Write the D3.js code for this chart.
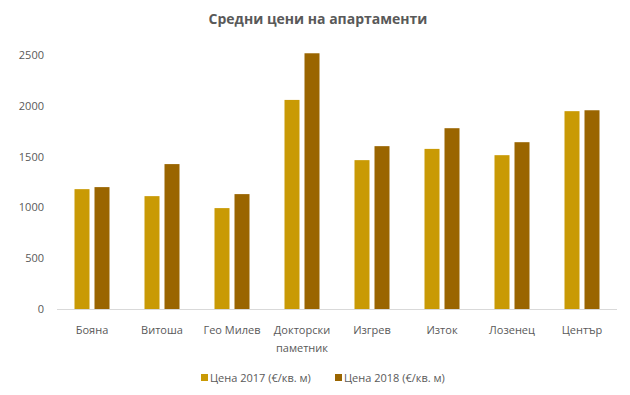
<!DOCTYPE html>
<html>
<head>
<meta charset="utf-8">
<script src="https://cdn.jsdelivr.net/npm/d3@7"></script>
<style>
  body { margin: 0; background: #fff; }
  text { font-family: "Open Sans", "Noto Sans", sans-serif; fill: #595959; }
</style>
</head>
<body>
<div id="chart"></div>
<script>
var categories = ["Бояна", "Витоша", "Гео Милев", "Докторски паметник", "Изгрев", "Изток", "Лозенец", "Център"];
var prices2017 = [1182, 1113, 995, 2062, 1468, 1579, 1517, 1951];
var prices2018 = [1202, 1429, 1133, 2522, 1606, 1783, 1645, 1960];
var seriesNames = ["Цена 2017 (€/кв. м)", "Цена 2018 (€/кв. м)"];
var yTicks = [0, 500, 1000, 1500, 2000, 2500];

var colors = ["#C99A05", "#9A6500"];

var width = 630;
var height = 395;
var margin = { top: 55, right: 13, bottom: 86, left: 57 };

var svg = d3
  .select("#chart")
  .append("svg")
  .attr("width", width)
  .attr("height", height);

var x = d3
  .scaleBand()
  .domain(categories)
  .range([margin.left, width - margin.right]);

var y = d3
  .scaleLinear()
  .domain([0, 2500])
  .range([height - margin.bottom, 55.5]);

// title
svg
  .append("text")
  .attr("x", 318)
  .attr("y", 24)
  .attr("text-anchor", "middle")
  .style("font-size", "14px")
  .style("font-weight", "bold")
  .text("Средни цени на апартаменти");

// y labels, no axis line
svg
  .selectAll(".ytick")
  .data(yTicks)
  .enter()
  .append("text")
  .attr("class", "ytick")
  .attr("x", 44)
  .attr("y", d => y(d))
  .attr("dy", "0.35em")
  .attr("text-anchor", "end")
  .style("font-size", "11px")
  .text(d => d);

// bars
var series = [prices2017, prices2018];
var barW = 15;
var gap = 5;

series.forEach(function(vals, s) {
  svg
    .selectAll(".bar" + s)
    .data(vals)
    .enter()
    .append("rect")
    .attr("class", "bar" + s)
    .attr("x", (d, i) => x(categories[i]) + x.bandwidth() / 2 - barW - gap / 2 + s * (barW + gap))
    .attr("y", d => y(d))
    .attr("width", barW)
    .attr("height", d => y(0) - y(d))
    .style("fill", colors[s]);
});

// baseline
svg
  .append("line")
  .attr("x1", margin.left)
  .attr("x2", width - margin.right)
  .attr("y1", y(0) + 0.5)
  .attr("y2", y(0) + 0.5)
  .style("stroke", "#d9d9d9")
  .style("stroke-width", 1);

// category labels (wrap the long one)
var labels = svg
  .selectAll(".xlabel")
  .data(categories)
  .enter()
  .append("text")
  .attr("class", "xlabel")
  .attr("text-anchor", "middle")
  .style("font-size", "11px")
  .attr("y", y(0) + 25);

labels.each(function(d) {
  var words = d === "Докторски паметник" ? d.split(" ") : [d];
  var t = d3.select(this);
  words.forEach(function(w, k) {
    t.append("tspan")
      .attr("x", x(d) + x.bandwidth() / 2)
      .attr("dy", k === 0 ? 0 : "1.65em")
      .text(w);
  });
});

// legend
var legend = svg
  .selectAll(".legend")
  .data(seriesNames)
  .enter()
  .append("g")
  .attr("class", "legend")
  .attr("transform", (d, i) => "translate(" + (201 + i * 134) + ",374)");

legend
  .append("rect")
  .attr("width", 7)
  .attr("height", 7)
  .style("fill", (d, i) => colors[i]);

legend
  .append("text")
  .attr("x", 9)
  .attr("y", 4)
  .attr("dy", "0.35em")
  .style("font-size", "11px")
  .text(d => d);
</script>
</body>
</html>
